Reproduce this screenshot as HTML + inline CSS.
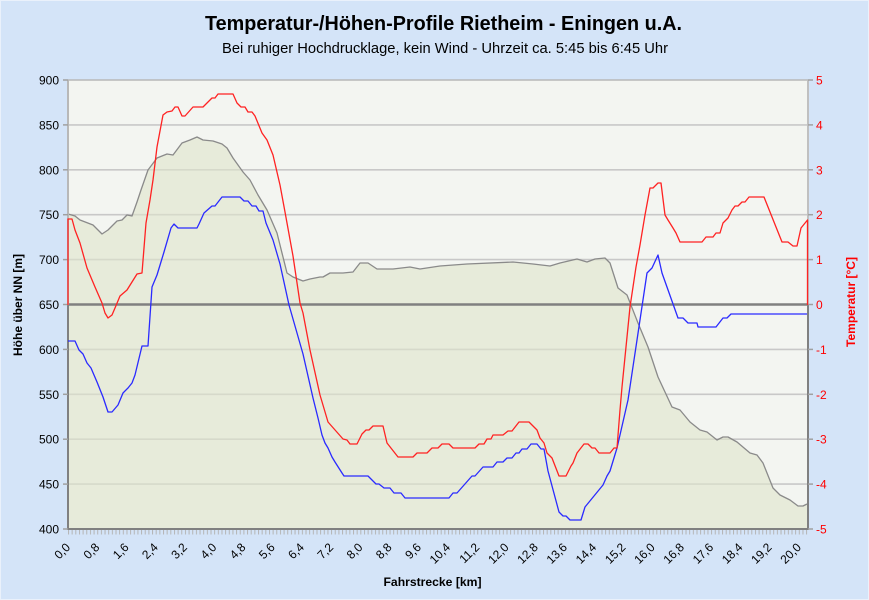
<!DOCTYPE html>
<html><head><meta charset="utf-8"><style>
html,body{margin:0;padding:0;background:#d4e4f8;}
svg{display:block;}
text{font-family:"Liberation Sans",Arial,sans-serif;}
</style></head><body>
<svg width="869" height="600" viewBox="0 0 869 600" xmlns="http://www.w3.org/2000/svg">
<defs>
<pattern id="mt" x="68" y="0" width="3.654" height="10" patternUnits="userSpaceOnUse">
<rect x="0" y="0" width="1" height="10" fill="#b4b4b4"/>
</pattern>
</defs>
<rect x="0" y="0" width="869" height="600" fill="#d4e4f8"/>
<rect x="0.5" y="0.5" width="868" height="599" fill="none" stroke="#eaf1fb" stroke-width="1"/>

<!-- titles -->
<text x="443.5" y="30" text-anchor="middle" font-size="20" font-weight="bold" fill="#000" textLength="477" lengthAdjust="spacingAndGlyphs">Temperatur-/Höhen-Profile Rietheim - Eningen u.A.</text>
<text x="445" y="53" text-anchor="middle" font-size="15" fill="#000" textLength="446" lengthAdjust="spacingAndGlyphs">Bei ruhiger Hochdrucklage, kein Wind - Uhrzeit ca. 5:45 bis 6:45 Uhr</text>

<!-- plot background -->
<rect x="68" y="80" width="740" height="449" fill="#f3f5f1"/>

<!-- grid -->
<g stroke="#c8c8c8" stroke-width="1.6">
<line x1="68" y1="124.9" x2="808" y2="124.9"/>
<line x1="68" y1="169.8" x2="808" y2="169.8"/>
<line x1="68" y1="214.7" x2="808" y2="214.7"/>
<line x1="68" y1="259.6" x2="808" y2="259.6"/>
<line x1="68" y1="349.4" x2="808" y2="349.4"/>
<line x1="68" y1="394.3" x2="808" y2="394.3"/>
<line x1="68" y1="439.2" x2="808" y2="439.2"/>
<line x1="68" y1="484.1" x2="808" y2="484.1"/>
</g>

<!-- altitude area -->
<polygon fill="rgb(223,228,204)" fill-opacity="0.6" points="68,214 75,216 80,220 93,225 102,234 108,230 117,221 122,220 127,215 132,216 137,202 141,190 148,170 157,158 167,154 173,155 182,143 190,140 197,137 203,140 213,141 222,144 227,148 233,158 243,172 250,180 258,195 267,210 277,233 287,273 293,277 303,281 310,279 320,277 323,277 330,273 343,273 353,272 360,263 368,263 377,269 393,269 410,267 420,269 440,266 467,264 513,262 533,264 550,266 560,263 577,259 587,262 595,259 605,258 610,263 618,288 627,295 638,323 648,347 658,377 672,407 680,410 690,422 700,430 707,432 717,440 723,437 728,437 737,442 750,453 757,455 763,463 773,488 780,495 790,500 798,506 803,506 807,504 807,529 68,529"/>
<polyline fill="none" stroke="#8a8a8a" stroke-width="1.3" stroke-linejoin="round" points="68,214 75,216 80,220 93,225 102,234 108,230 117,221 122,220 127,215 132,216 137,202 141,190 148,170 157,158 167,154 173,155 182,143 190,140 197,137 203,140 213,141 222,144 227,148 233,158 243,172 250,180 258,195 267,210 277,233 287,273 293,277 303,281 310,279 320,277 323,277 330,273 343,273 353,272 360,263 368,263 377,269 393,269 410,267 420,269 440,266 467,264 513,262 533,264 550,266 560,263 577,259 587,262 595,259 605,258 610,263 618,288 627,295 638,323 648,347 658,377 672,407 680,410 690,422 700,430 707,432 717,440 723,437 728,437 737,442 750,453 757,455 763,463 773,488 780,495 790,500 798,506 803,506 807,504"/>

<!-- zero line -->
<line x1="68" y1="304.5" x2="808" y2="304.5" stroke="#808080" stroke-width="2.5"/>

<!-- axes -->
<line x1="68" y1="80" x2="808" y2="80" stroke="#b8b8b8" stroke-width="1.5"/>
<line x1="68" y1="80" x2="68" y2="305" stroke="#b8b8b8" stroke-width="2"/>
<line x1="68" y1="305" x2="68" y2="530" stroke="#808080" stroke-width="2"/>
<line x1="808" y1="80" x2="808" y2="305" stroke="#c0c0c0" stroke-width="2"/>
<line x1="808" y1="305" x2="808" y2="530" stroke="#808080" stroke-width="2"/>
<line x1="67" y1="529" x2="809" y2="529" stroke="#808080" stroke-width="2"/>
<rect x="68" y="530" width="741" height="4.5" fill="url(#mt)"/>

<!-- y ticks -->
<g stroke="#a0a0a0" stroke-width="1.5">
<line x1="63" y1="80" x2="68" y2="80"/><line x1="63" y1="124.9" x2="68" y2="124.9"/><line x1="63" y1="169.8" x2="68" y2="169.8"/><line x1="63" y1="214.7" x2="68" y2="214.7"/><line x1="63" y1="259.6" x2="68" y2="259.6"/><line x1="63" y1="304.5" x2="68" y2="304.5"/><line x1="63" y1="349.4" x2="68" y2="349.4"/><line x1="63" y1="394.3" x2="68" y2="394.3"/><line x1="63" y1="439.2" x2="68" y2="439.2"/><line x1="63" y1="484.1" x2="68" y2="484.1"/><line x1="63" y1="529" x2="68" y2="529"/>
<line x1="808" y1="80" x2="813" y2="80"/><line x1="808" y1="124.9" x2="813" y2="124.9"/><line x1="808" y1="169.8" x2="813" y2="169.8"/><line x1="808" y1="214.7" x2="813" y2="214.7"/><line x1="808" y1="259.6" x2="813" y2="259.6"/><line x1="808" y1="304.5" x2="813" y2="304.5"/><line x1="808" y1="349.4" x2="813" y2="349.4"/><line x1="808" y1="394.3" x2="813" y2="394.3"/><line x1="808" y1="439.2" x2="813" y2="439.2"/><line x1="808" y1="484.1" x2="813" y2="484.1"/><line x1="808" y1="529" x2="813" y2="529"/>
</g>

<!-- blue series -->
<polyline fill="none" stroke="#2a2aff" stroke-width="1.3" stroke-linejoin="round" points="68,341 75,341 79,350 83,354 87,363 91,368 97,382 103,397 108,412 112,412 118,405 123,393 128,388 132,383 135,375 142,346 148,346 152,287 157,275 164,252 171,228 174,224 178,228 197,228 199,224 204,213 212,206 215,206 222,197 240,197 244,201 248,201 252,206 256,206 259,211 263,211 266,223 273,240 280,264 289,305 303,354 313,398 318,418 322,435 325,443 328,448 332,457 335,462 342,473 344,476 368,476 376,484 379,484 384,488 390,488 394,493 401,493 405,498 449,498 453,493 457,493 472,476 475,476 483,467 493,467 497,462 503,462 507,458 512,458 516,453 519,453 522,449 527,449 531,444 537,444 541,449 544,449 548,471 559,512 563,516 566,516 570,520 581,520 585,507 603,485 607,476 610,471 617,448 628,400 637,340 647,273 652,268 658,255 662,273 678,318 683,318 688,323 697,323 698,327 716,327 723,318 727,318 731,314 807,314"/>

<!-- red series -->
<polyline fill="none" stroke="#ff2222" stroke-width="1.3" stroke-linejoin="round" points="68,305 68,219 72,219 75,230 80,243 87,268 95,287 102,303 105,313 108,318 112,315 115,308 120,296 127,290 137,274 142,273 146,223 150,200 153,180 157,147 163,115 167,112 172,111 175,107 178,107 182,116 185,116 193,107 203,107 212,98 215,98 218,94 233,94 237,103 241,107 245,107 248,112 252,112 255,116 262,133 267,140 273,155 280,185 285,212 293,256 300,303 303,313 310,350 320,395 328,422 343,439 347,440 350,444 357,444 362,434 366,430 369,430 373,426 383,426 387,443 398,457 413,457 417,453 427,453 432,448 438,448 442,444 449,444 453,448 475,448 479,444 484,444 487,439 491,439 493,435 503,435 508,431 512,431 519,422 529,422 537,430 540,438 544,443 547,453 552,458 559,476 566,476 571,466 573,463 577,453 584,444 588,444 592,448 595,448 599,453 610,453 614,448 617,448 620,410 622,387 630,307 636,267 640,245 645,215 650,188 653,188 658,183 661,183 665,215 668,220 673,228 676,233 680,242 702,242 706,237 713,237 716,233 720,233 723,223 728,218 732,210 735,206 738,206 742,202 745,202 749,197 764,197 782,242 788,242 793,246 797,246 801,228 807.5,220 807.5,305"/>

<!-- left labels -->
<g font-size="12" fill="#000" text-anchor="end">
<text x="59" y="84.5">900</text><text x="59" y="129.4">850</text><text x="59" y="174.3">800</text><text x="59" y="219.2">750</text><text x="59" y="264.1">700</text><text x="59" y="309">650</text><text x="59" y="353.9">600</text><text x="59" y="398.8">550</text><text x="59" y="443.7">500</text><text x="59" y="488.6">450</text><text x="59" y="533.5">400</text>
</g>
<!-- right labels -->
<g font-size="12" fill="#ff0000" text-anchor="start">
<text x="816" y="84.5">5</text><text x="816" y="129.4">4</text><text x="816" y="174.3">3</text><text x="816" y="219.2">2</text><text x="816" y="264.1">1</text><text x="816" y="309">0</text><text x="816" y="353.9">-1</text><text x="816" y="398.8">-2</text><text x="816" y="443.7">-3</text><text x="816" y="488.6">-4</text><text x="816" y="533.5">-5</text>
</g>

<!-- x labels -->
<g font-size="12" fill="#000" text-anchor="end">
<text x="71.0" y="548" transform="rotate(-45 71.0 548)">0,0</text>
<text x="100.2" y="548" transform="rotate(-45 100.2 548)">0,8</text>
<text x="129.5" y="548" transform="rotate(-45 129.5 548)">1,6</text>
<text x="158.7" y="548" transform="rotate(-45 158.7 548)">2,4</text>
<text x="187.9" y="548" transform="rotate(-45 187.9 548)">3,2</text>
<text x="217.2" y="548" transform="rotate(-45 217.2 548)">4,0</text>
<text x="246.4" y="548" transform="rotate(-45 246.4 548)">4,8</text>
<text x="275.6" y="548" transform="rotate(-45 275.6 548)">5,6</text>
<text x="304.8" y="548" transform="rotate(-45 304.8 548)">6,4</text>
<text x="334.1" y="548" transform="rotate(-45 334.1 548)">7,2</text>
<text x="363.3" y="548" transform="rotate(-45 363.3 548)">8,0</text>
<text x="392.5" y="548" transform="rotate(-45 392.5 548)">8,8</text>
<text x="421.8" y="548" transform="rotate(-45 421.8 548)">9,6</text>
<text x="451.0" y="548" transform="rotate(-45 451.0 548)">10,4</text>
<text x="480.2" y="548" transform="rotate(-45 480.2 548)">11,2</text>
<text x="509.5" y="548" transform="rotate(-45 509.5 548)">12,0</text>
<text x="538.7" y="548" transform="rotate(-45 538.7 548)">12,8</text>
<text x="567.9" y="548" transform="rotate(-45 567.9 548)">13,6</text>
<text x="597.1" y="548" transform="rotate(-45 597.1 548)">14,4</text>
<text x="626.4" y="548" transform="rotate(-45 626.4 548)">15,2</text>
<text x="655.6" y="548" transform="rotate(-45 655.6 548)">16,0</text>
<text x="684.8" y="548" transform="rotate(-45 684.8 548)">16,8</text>
<text x="714.1" y="548" transform="rotate(-45 714.1 548)">17,6</text>
<text x="743.3" y="548" transform="rotate(-45 743.3 548)">18,4</text>
<text x="772.5" y="548" transform="rotate(-45 772.5 548)">19,2</text>
<text x="801.8" y="548" transform="rotate(-45 801.8 548)">20,0</text>
</g>

<!-- axis titles -->
<text x="432.5" y="586" text-anchor="middle" font-size="12" font-weight="bold" fill="#000" textLength="98" lengthAdjust="spacingAndGlyphs">Fahrstrecke [km]</text>
<text x="22" y="305" text-anchor="middle" font-size="12" font-weight="bold" fill="#000" transform="rotate(-90 22 305)">Höhe über NN [m]</text>
<text x="855" y="302" text-anchor="middle" font-size="12" font-weight="bold" fill="#ff0000" transform="rotate(-90 855 302)">Temperatur [°C]</text>
</svg>
</body></html>
